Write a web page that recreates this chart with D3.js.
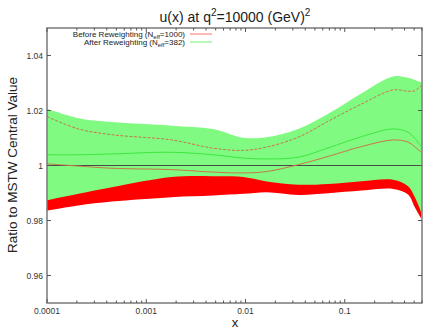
<!DOCTYPE html>
<html>
<head>
<meta charset="utf-8">
<script src="https://cdn.jsdelivr.net/npm/d3@7"></script>
<style>
  body { margin: 0; background: #fff; }
  text { font-family: "Liberation Sans", Arial, sans-serif; }
</style>
</head>
<body>
<script>
// x grid of the curves
const xValues = [0.0001, 0.000207, 0.00045, 0.0018, 0.0047, 0.0095, 0.0163, 0.034, 0.068, 0.148, 0.307, 0.434, 0.508, 0.59];

// Before reweighting (red)
const beforeCentral = [1.0006, 0.9998, 0.9990, 0.9985, 0.9976, 0.9973, 0.9978, 1.0003, 1.0033, 1.0069, 1.0093, 1.0085, 1.0068, 1.0048];
const beforeUpper   = [1.0178, 1.0133, 1.0112, 1.0093, 1.0063, 1.0055, 1.0067, 1.0103, 1.0161, 1.0224, 1.0275, 1.0270, 1.0272, 1.0291];
const beforeLower   = [0.9836, 0.9855, 0.9869, 0.9885, 0.9891, 0.9897, 0.9903, 0.9893, 0.9899, 0.9909, 0.9915, 0.9895, 0.9848, 0.9806];

// After reweighting (green)
const afterCentral = [1.0039, 1.0039, 1.0042, 1.0048, 1.0039, 1.0027, 1.0024, 1.0030, 1.0064, 1.0105, 1.0133, 1.0121, 1.0098, 1.0069];
const afterUpper   = [1.0206, 1.0172, 1.0158, 1.0145, 1.0133, 1.0101, 1.0103, 1.0133, 1.0188, 1.0263, 1.0324, 1.0319, 1.0311, 1.0303];
const afterLower   = [0.9873, 0.9897, 0.9921, 0.9958, 0.9961, 0.9958, 0.9942, 0.9930, 0.9933, 0.9943, 0.9948, 0.9925, 0.9885, 0.9830];

const yTicks = [0.96, 0.98, 1, 1.02, 1.04];
const yTickLabels = ["0.96", "0.98", "1", "1.02", "1.04"];
const xTicks = [0.0001, 0.001, 0.01, 0.1];
const xTickLabels = ["0.0001", "0.001", "0.01", "0.1"];

const width = 434, height = 335;
const margin = { left: 47, right: 12, top: 28, bottom: 32 };

const svg = d3.select("body").append("svg")
  .attr("width", width)
  .attr("height", height);

const x = d3.scaleLog().domain([0.0001, 0.6]).range([margin.left, width - margin.right]);
const y = d3.scaleLinear().domain([0.95, 1.05]).range([height - margin.bottom, margin.top]);

const rows = (arr) => xValues.map((xv, i) => [xv, arr[i]]);
const bandRows = (lo, hi) => xValues.map((xv, i) => [xv, lo[i], hi[i]]);

const area = d3.area()
  .x((d) => x(d[0]))
  .y0((d) => y(d[1]))
  .y1((d) => y(d[2]))
  .curve(d3.curveCatmullRom);

const line = d3.line()
  .x((d) => x(d[0]))
  .y((d) => y(d[1]))
  .curve(d3.curveCatmullRom);

const plot = svg.append("g");

// Bands
plot.append("path")
  .attr("d", area(bandRows(beforeLower, beforeUpper)))
  .attr("fill", "#ff0000");

plot.append("path")
  .attr("d", area(bandRows(afterLower, afterUpper)))
  .attr("fill", "#80fa80");

// Reference line at 1
plot.append("line")
  .attr("x1", x.range()[0]).attr("x2", x.range()[1])
  .attr("y1", y(1)).attr("y2", y(1))
  .attr("stroke", "#4a4a4a")
  .attr("stroke-width", 1);

// Lines
plot.append("path")
  .attr("d", line(rows(beforeUpper)))
  .attr("fill", "none")
  .attr("stroke", "#c8784a")
  .attr("stroke-width", 1)
  .attr("stroke-dasharray", "3,1.5");

plot.append("path")
  .attr("d", line(rows(afterCentral)))
  .attr("fill", "none")
  .attr("stroke", "#3ee83e")
  .attr("stroke-width", 1);

plot.append("path")
  .attr("d", line(rows(beforeCentral)))
  .attr("fill", "none")
  .attr("stroke", "#c8784a")
  .attr("stroke-width", 1);

// Frame
const frameColor = "#7a7a7a";
svg.append("rect")
  .attr("x", margin.left)
  .attr("y", margin.top)
  .attr("width", width - margin.left - margin.right)
  .attr("height", height - margin.top - margin.bottom)
  .attr("fill", "none")
  .attr("stroke", frameColor)
  .attr("stroke-width", 1.5);

// Axes
const minorTicks = x.ticks().filter((t) => !xTicks.includes(t));
const axisGroup = svg.append("g").attr("stroke", "#555").attr("stroke-width", 1);

xTicks.concat(minorTicks).forEach((t) => {
  const len = xTicks.includes(t) ? 4 : 2.5;
  axisGroup.append("line")
    .attr("x1", x(t)).attr("x2", x(t))
    .attr("y1", y.range()[0]).attr("y2", y.range()[0] - len);
  axisGroup.append("line")
    .attr("x1", x(t)).attr("x2", x(t))
    .attr("y1", y.range()[1]).attr("y2", y.range()[1] + len);
});

yTicks.forEach((t) => {
  axisGroup.append("line")
    .attr("x1", x.range()[0]).attr("x2", x.range()[0] + 4)
    .attr("y1", y(t)).attr("y2", y(t));
  axisGroup.append("line")
    .attr("x1", x.range()[1]).attr("x2", x.range()[1] - 4)
    .attr("y1", y(t)).attr("y2", y(t));
});

svg.append("g").selectAll("text")
  .data(yTicks)
  .enter()
  .append("text")
  .attr("x", 43)
  .attr("y", (d) => y(d) + 3)
  .attr("text-anchor", "end")
  .attr("font-size", 8.5)
  .attr("fill", "#333")
  .text((d, i) => yTickLabels[i]);

svg.append("g").selectAll("text")
  .data(xTicks)
  .enter()
  .append("text")
  .attr("x", (d) => x(d))
  .attr("y", 314)
  .attr("text-anchor", "middle")
  .attr("font-size", 8.5)
  .attr("fill", "#333")
  .text((d, i) => xTickLabels[i]);

// Title
const title = svg.append("text")
  .attr("x", 235)
  .attr("y", 22)
  .attr("text-anchor", "middle")
  .attr("font-size", 14)
  .attr("fill", "#222");
title.append("tspan").text("u(x) at q");
title.append("tspan").attr("dy", -6).attr("font-size", 10).text("2");
title.append("tspan").attr("dy", 6).text("=10000 (GeV)");
title.append("tspan").attr("dy", -6).attr("font-size", 10).text("2");

// Axis labels
svg.append("text")
  .attr("x", 235)
  .attr("y", 327)
  .attr("text-anchor", "middle")
  .attr("font-size", 13)
  .attr("fill", "#222")
  .text("x");

svg.append("text")
  .attr("transform", `translate(17, 165) rotate(-90)`)
  .attr("text-anchor", "middle")
  .attr("font-size", 13.5)
  .attr("fill", "#222")
  .text("Ratio to MSTW Central Value");

// Legend
const legendItems = [
  { label: "Before Reweighting (N", value: "=1000)", color: "#ff7070" },
  { label: "After Reweighting (N", value: "=382)", color: "#70f070" },
];

legendItems.forEach((item, i) => {
  const ly = 34 + i * 8;
  const t = svg.append("text")
    .attr("x", 185)
    .attr("y", ly + 3)
    .attr("text-anchor", "end")
    .attr("font-size", 8)
    .attr("fill", "#222");
  t.append("tspan").text(item.label);
  t.append("tspan").attr("dy", 2).attr("font-size", 6).text("eff");
  t.append("tspan").attr("dy", -2).text(item.value);
  svg.append("line")
    .attr("x1", 190).attr("x2", 212)
    .attr("y1", ly).attr("y2", ly)
    .attr("stroke", item.color)
    .attr("stroke-width", 1);
});
</script>
</body>
</html>
